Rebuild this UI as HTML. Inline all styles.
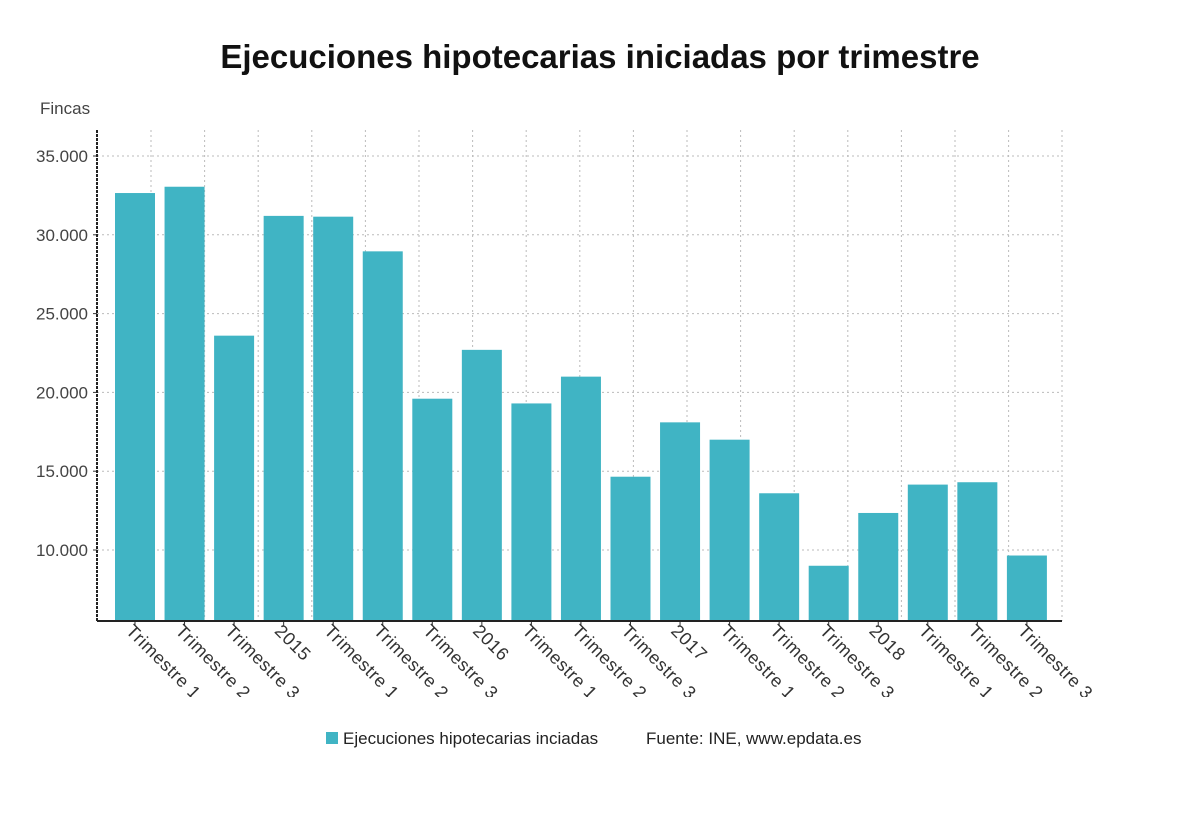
<!DOCTYPE html>
<html><head><meta charset="utf-8"><style>
body{margin:0;background:#fff;font-family:"Liberation Sans",sans-serif;}
</style></head><body>
<svg width="1200" height="808" xmlns="http://www.w3.org/2000/svg">
<rect width="1200" height="808" fill="#fff"/>
<text x="600" y="68" text-anchor="middle" font-size="33" font-weight="bold" fill="#111">Ejecuciones hipotecarias iniciadas por trimestre</text>
<text x="40" y="114" font-size="17" fill="#444">Fincas</text>
<defs><clipPath id="lc"><rect x="0" y="0" width="1200" height="697"/></clipPath></defs>
<g id="grid"></g><g id="bars"></g><g id="axes"></g><g id="labels" clip-path="url(#lc)"></g>
<g>
<rect x="326" y="732" width="12" height="12" fill="#40b4c4"/>
<text x="343" y="744" font-size="17" fill="#222">Ejecuciones hipotecarias inciadas</text>
<text x="646" y="744" font-size="17" fill="#222">Fuente: INE, www.epdata.es</text>
</g>
</svg>
<script>
const categories=["Trimestre 1","Trimestre 2","Trimestre 3","2015","Trimestre 1","Trimestre 2","Trimestre 3","2016","Trimestre 1","Trimestre 2","Trimestre 3","2017","Trimestre 1","Trimestre 2","Trimestre 3","2018","Trimestre 1","Trimestre 2","Trimestre 3"];
const values=[32650,33050,23600,31200,31150,28950,19600,22700,19300,21000,14650,18100,17000,13600,9000,12350,14150,14300,9650];
const yTicks=[10000,15000,20000,25000,30000,35000];
const tickLabels=["10.000","15.000","20.000","25.000","30.000","35.000"];
const NS="http://www.w3.org/2000/svg";
const x0=97,x1=1062,yTop=130,yBot=621;
function y(v){return 550-(v-10000)*(394/25000);}
function xc(i){return 135+i*49.55;}
function mk(tag,attrs,parent){const e=document.createElementNS(NS,tag);for(const k in attrs)e.setAttribute(k,attrs[k]);parent.appendChild(e);return e;}
const grid=document.getElementById('grid'),bars=document.getElementById('bars'),axes=document.getElementById('axes'),labels=document.getElementById('labels');
yTicks.forEach((t,i)=>{
 const l=mk('line',{x1:x0,x2:x1,y1:y(t),y2:y(t),stroke:'#bbb','stroke-dasharray':'2,3'},grid);
 
 
 const tx=mk('text',{x:88,y:y(t)+6,'text-anchor':'end','font-size':17,fill:'#444'},axes);
 tx.textContent=tickLabels[i];
 
 
 mk('line',{x1:x0-4,x2:x0,y1:y(t),y2:y(t),stroke:'#333'},axes);
});
for(let gx=151;gx<x1;gx+=53.6){
 const l=mk('line',{x1:gx,x2:gx,y1:yTop,y2:yBot,stroke:'#bbb','stroke-dasharray':'2,3'},grid);
 
 
}
mk('line',{x1:x1,x2:x1,y1:yTop,y2:yBot,stroke:'#bbb','stroke-dasharray':'2,3'},grid);
values.forEach((v,i)=>{
 const r=mk('rect',{x:xc(i)-20,y:y(v),width:40,height:yBot-y(v),fill:'#40b4c4'},bars);
 
 
 mk('line',{x1:xc(i),x2:xc(i),y1:yBot,y2:yBot+5,stroke:'#333'},axes);
 const t=mk('text',{x:0,y:0,'font-size':18,'letter-spacing':'0.6',fill:'#333',transform:`translate(${xc(i)-10},${yBot+11}) rotate(45)`},labels);
 t.textContent=categories[i];
 
 
});
const ya=mk('line',{x1:x0,x2:x0,y1:yTop,y2:yBot+1,stroke:'#222','stroke-width':2,'stroke-dasharray':'3,1'},axes);


const xa=mk('line',{x1:x0,x2:x1,y1:yBot,y2:yBot,stroke:'#222','stroke-width':2},axes);


</script>
</body></html>
